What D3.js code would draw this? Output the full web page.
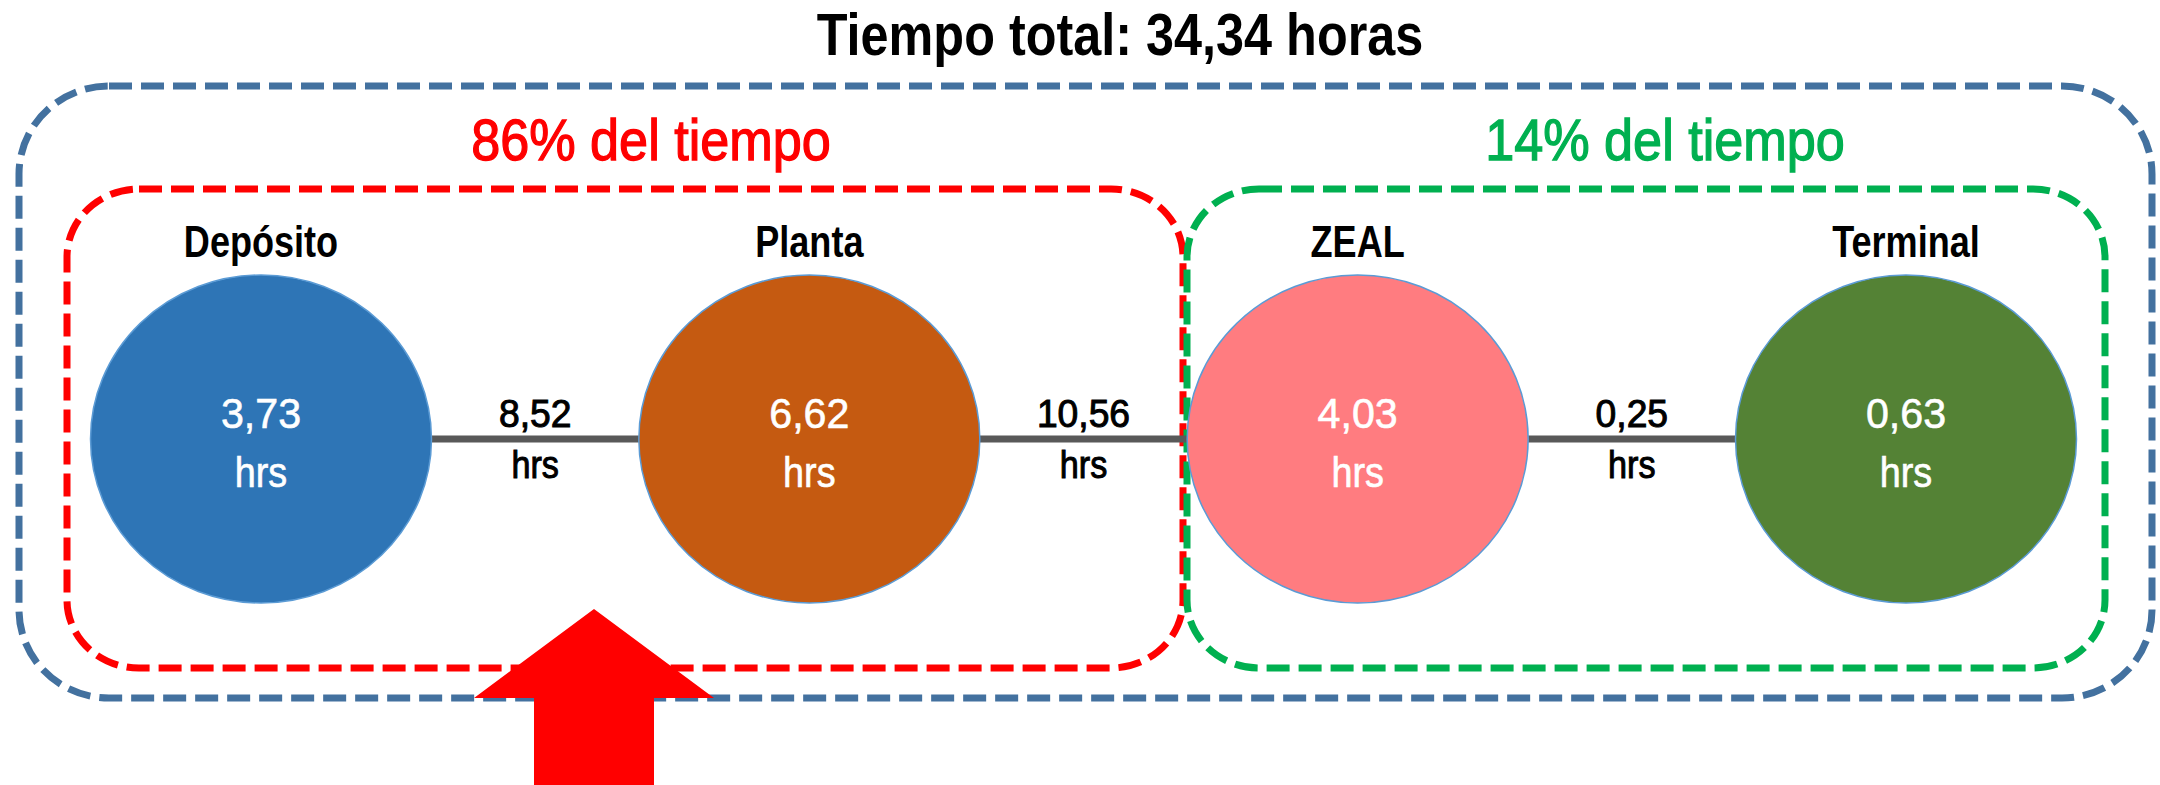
<!DOCTYPE html>
<html>
<head>
<meta charset="utf-8">
<script src="https://cdn.jsdelivr.net/npm/d3@7"></script>
<style>
    html, body { margin: 0; padding: 0; background: #fff; }
    text { font-family: "Liberation Sans", Arial, sans-serif; }
</style>
</head>
<body>
<svg id="diagram" width="2160" height="785"></svg>
<script>
// chart values
const stages = ["Depósito", "Planta", "ZEAL", "Terminal"];
const stageHours = [3.73, 6.62, 4.03, 0.63];
const legHours = [8.52, 10.56, 0.25];
const totalHours = 34.34;
const groupNames = ["86% del tiempo", "14% del tiempo"];

// styles
const stageColors = ["#2E75B6", "#C55A11", "#FF7C80", "#548235"];
const groupColors = ["#FF0000", "#00B050"];

let svg = d3.select("#diagram");
let es = d3.formatLocale({decimal: ",", thousands: ".", grouping: [3], currency: ["", ""]});
let fmt = es.format(".2f");

// layout
let xScale = d3.scalePoint()
    .domain(stages)
    .range([261, 1906]);
let cy = 439;
let rx = 170.5, ry = 164;
let color = d3.scaleOrdinal(stages, stageColors);

// helper for condensed text (stroke thickens regular weight a bit)
function label(g, x, y, str, size, weight, fill, sx, thick) {
    return g.append("text")
        .attr("transform", `translate(${x},${y}) scale(${sx},1)`)
        .attr("text-anchor", "middle")
        .style("font-size", size + "px")
        .style("font-weight", weight)
        .attr("fill", fill)
        .attr("stroke", thick ? fill : "none")
        .attr("stroke-width", thick || 0)
        .text(str);
}

// dashed boxes
let dash = "23 9";
svg.append("rect")
    .attr("x", 19).attr("y", 86)
    .attr("width", 2152 - 19).attr("height", 698 - 86)
    .attr("rx", 90).attr("ry", 88)
    .attr("fill", "none")
    .attr("stroke", "#43719F")
    .attr("stroke-width", 7)
    .attr("stroke-dasharray", dash);

let groupBoxes = [[67, 1183], [1187, 2105]];
svg.selectAll(".group")
    .data(groupNames)
    .enter()
    .append("rect")
    .attr("class", "group")
    .attr("x", (d, i) => groupBoxes[i][0])
    .attr("y", 189)
    .attr("width", (d, i) => groupBoxes[i][1] - groupBoxes[i][0])
    .attr("height", 668 - 189)
    .attr("rx", 72).attr("ry", 68)
    .attr("fill", "none")
    .attr("stroke", (d, i) => groupColors[i])
    .attr("stroke-width", 7)
    .attr("stroke-dasharray", dash);

// connectors between stages
let legs = legHours.map((h, i) => ({h: h, from: stages[i], to: stages[i + 1]}));
svg.selectAll(".leg")
    .data(legs)
    .enter()
    .append("line")
    .attr("class", "leg")
    .attr("x1", d => xScale(d.from) + rx)
    .attr("x2", d => xScale(d.to) - rx)
    .attr("y1", cy).attr("y2", cy)
    .attr("stroke", "#595959")
    .attr("stroke-width", 7);

// stage ellipses
svg.selectAll(".stage")
    .data(stages)
    .enter()
    .append("ellipse")
    .attr("class", "stage")
    .attr("cx", d => xScale(d))
    .attr("cy", cy)
    .attr("rx", rx).attr("ry", ry)
    .attr("fill", d => color(d))
    .attr("stroke", "#5B9BD5")
    .attr("stroke-width", 1.5);

// texts
label(svg, 1120, 55, `Tiempo total: ${fmt(totalHours)} horas`, 60, "bold", "#000", 0.84);
let groupCenters = [651, 1665];
groupNames.forEach((g, i) => label(svg, groupCenters[i], 160, g, 58, "normal", groupColors[i], 0.9, 1.3));

stages.forEach((s, i) => {
    let x = xScale(s);
    label(svg, x, 257, s, 44, "bold", "#000", 0.82);
    label(svg, x, 428, fmt(stageHours[i]), 42, "normal", "#fff", 0.98, 0.6);
    label(svg, x, 487, "hrs", 42, "normal", "#fff", 0.9, 0.6);
});

legs.forEach(d => {
    let x = (xScale(d.from) + xScale(d.to)) / 2;
    label(svg, x, 427, fmt(d.h), 38, "normal", "#000", 0.98, 1);
    label(svg, x, 478, "hrs", 38, "normal", "#000", 0.9, 1);
});

// red arrow
let ax = 594;
let arrow = [[ax, 609], [ax + 120, 698], [ax + 60, 698], [ax + 60, 790],
             [ax - 60, 790], [ax - 60, 698], [ax - 120, 698]];
svg.append("path")
    .attr("d", d3.line()(arrow) + "Z")
    .attr("fill", "#FF0000");
</script>
</body>
</html>
